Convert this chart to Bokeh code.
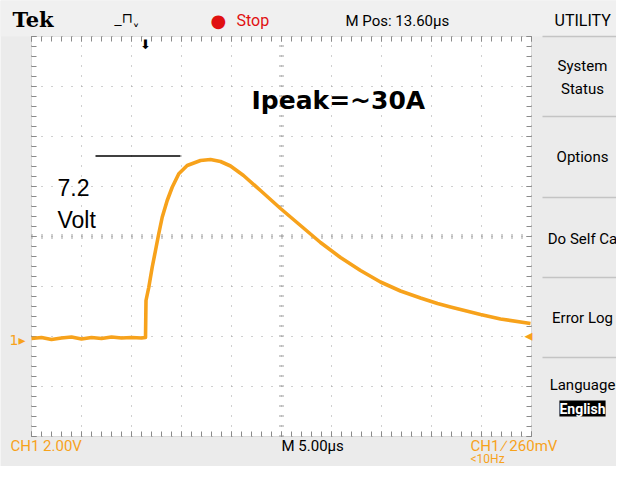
from bokeh.plotting import figure
from bokeh.models import Label, Arrow, FixedTicker, Grid, Range1d, BoxAnnotation
from bokeh.embed import file_html
from bokeh.resources import INLINE

time_us = [0, 1, 2, 3, 4, 5, 6, 7, 8, 9, 10, 11, 11.4,
           11.45, 11.73, 12.07, 12.4, 12.73, 13.07, 13.57, 14.07, 14.73, 15.57,
           16.9, 17.9, 18.9, 19.9, 21.2, 22.9, 24.9, 26.9, 28.9, 30.9, 32.9,
           34.9, 36.9, 38.9, 40.6, 41.9, 44.9, 46.9, 49.9]
ch1_volts = [0.0, 0.04, -0.04, 0.02, 0.06, -0.02, 0.04, 0.0, 0.06, 0.02, 0.04, 0.02, 0.04,
             1.52, 2.05, 2.85, 3.52, 4.2, 4.85, 5.52, 6.05, 6.59, 6.92,
             7.12, 7.16, 7.08, 6.9, 6.52, 5.92, 5.2, 4.52, 3.84, 3.24, 2.72,
             2.26, 1.9, 1.62, 1.4, 1.26, 0.96, 0.78, 0.6]
ref_level_t = [6.4, 14.9]
ref_level_v = [7.3, 7.3]

VOLTS_PER_DIV = 2.0
US_PER_DIV = 5.0
N_XDIV, N_YDIV = 10, 8

ORANGE = "#f7a21b"
FONT = "Liberation Sans Narrow, Roboto, sans-serif"

W, H = 616, 466

# screen-pixel -> data helpers (graticule: 50 px / division, ground at y=338)
def tx(X):
    return (X - 31) / 10.0

def vy(Y):
    return (338 - Y) / 25.0

T0, T1 = 0.0, US_PER_DIV * N_XDIV
V_TOP = vy(36)
V_BOT = V_TOP - VOLTS_PER_DIV * N_YDIV

p = figure(width=W, height=H, output_backend="svg", toolbar_location=None,
           x_range=Range1d(tx(0), tx(W)), y_range=Range1d(vy(H), vy(0)),
           min_border=0, x_axis_type=None, y_axis_type=None)
p.background_fill_color = "#ebebeb"
p.border_fill_color = "#ebebeb"
p.outline_line_color = None
p.xgrid.visible = False
p.ygrid.visible = False

# white graticule area
p.add_layout(BoxAnnotation(left=T0, right=T1, bottom=V_BOT, top=V_TOP, fill_color="white",
                           fill_alpha=1, line_color="#9a9a9a", line_width=1, level="image"))
# light strip on top bar
p.add_layout(BoxAnnotation(left=tx(0), right=tx(W), bottom=V_TOP, top=vy(0),
                           fill_color="#f0f0f0", fill_alpha=1, line_color=None, level="image"))

x_major = [US_PER_DIV * k for k in range(N_XDIV + 1)]
x_minor = [k * 1.0 for k in range(int(T1) + 1)]
y_major = [V_TOP - VOLTS_PER_DIV * k for k in range(N_YDIV + 1)]
y_minor = [V_TOP - 0.4 * k for k in range(5 * N_YDIV + 1)]

xt = FixedTicker(ticks=x_major, minor_ticks=x_minor)
yt = FixedTicker(ticks=y_major, minor_ticks=y_minor)

GC = "#a0a0a0"
# dotted graticule
p.add_layout(Grid(dimension=0, ticker=xt, cross_bounds=(V_BOT, V_TOP), grid_line_color=GC,
                  grid_line_dash="1 9"))
p.add_layout(Grid(dimension=1, ticker=yt, cross_bounds=(T0, T1), grid_line_color=GC,
                  grid_line_dash="1 9"))
# centre cross with tick marks
p.add_layout(Grid(dimension=0, ticker=FixedTicker(ticks=[x_major[N_XDIV // 2]]),
                  cross_bounds=(V_BOT, V_TOP), grid_line_color=GC, grid_line_dash="1 9",
                  grid_line_width=5))
p.add_layout(Grid(dimension=1, ticker=FixedTicker(ticks=[y_major[N_YDIV // 2]]),
                  cross_bounds=(T0, T1), grid_line_color=GC, grid_line_dash="1 9",
                  grid_line_width=5))
# edge tick marks
for b in ((V_TOP - 0.2, V_TOP), (V_BOT, V_BOT + 0.2)):
    p.add_layout(Grid(dimension=0, ticker=xt, cross_bounds=b, grid_line_color="#8a8a8a",
                      minor_grid_line_color="#8a8a8a"))
for b in ((T0, T0 + 0.5), (T1 - 0.5, T1)):
    p.add_layout(Grid(dimension=1, ticker=yt, cross_bounds=b, grid_line_color="#8a8a8a",
                      minor_grid_line_color="#8a8a8a"))

# trace
p.line(time_us, ch1_volts, line_color=ORANGE, line_width=3.6, line_join="round")
# 7.2 V reference line
p.line(ref_level_t, ref_level_v, line_color="black", line_width=1.5)

def lab(X, Y, text, size, color="black", font=FONT, style="normal", align="left", **kw):
    p.add_layout(Label(x=tx(X), y=vy(Y), text=text, text_font_size=f"{size}px",
                       text_color=color, text_font=font, text_font_style=style,
                       text_align=align, text_baseline="middle", **kw))

# top bar
lab(12, 19, "Tek", 21, font="DejaVu Serif", style="bold")
lab(114, 17, "_\u2293\u02ec", 14, font="DejaVu Sans")
lab(145, 44, "\u2b07", 13, font="DejaVu Sans", align="center")
lab(210, 20, "\u25cf", 18, color="#e01010", font="DejaVu Sans")
lab(236, 20, "Stop", 16, color="#e01010")
lab(345, 20, "M Pos: 13.60\u00b5s", 15)
lab(554, 20, "UTILITY", 16)

# right menu
MX = 582
for Y, text in ((65, "System"), (88, "Status"), (156, "Options"), (238, "Do Self Ca"),
                (317, "Error Log"), (384, "Language")):
    lab(MX, Y, text, 15, align="center")
lab(MX, 408, "English", 14, color="white", align="center", style="bold",
    background_fill_color="black")
for Y in (36, 116, 197, 277, 357):
    p.add_layout(Arrow(x_start=tx(542), y_start=vy(Y), x_end=tx(W), y_end=vy(Y),
                       start=None, end=None, line_color="#c4c4c4", line_width=1.5))

# bottom bar
lab(10, 445, "CH1  2.00V", 15, color=ORANGE)
lab(281, 445, "M 5.00\u00b5s", 15)
lab(470, 445, "CH1 \u2215 260mV", 15, color=ORANGE)
lab(470, 458, "<10Hz", 12, color=ORANGE)

# markers
lab(9, 339, "1\u25b8", 14, color=ORANGE, font="DejaVu Sans")
lab(532, 335, "\u25c2", 16, color=ORANGE, font="DejaVu Sans", align="right")

# annotations
lab(251, 100, "Ipeak=~30A", 25, font="DejaVu Sans", style="bold")
lab(57, 187, "7.2", 23, font="Liberation Sans")
lab(57, 219, "Volt", 23, font="Liberation Sans")

open("out.html", "w").write(file_html(p, INLINE))
